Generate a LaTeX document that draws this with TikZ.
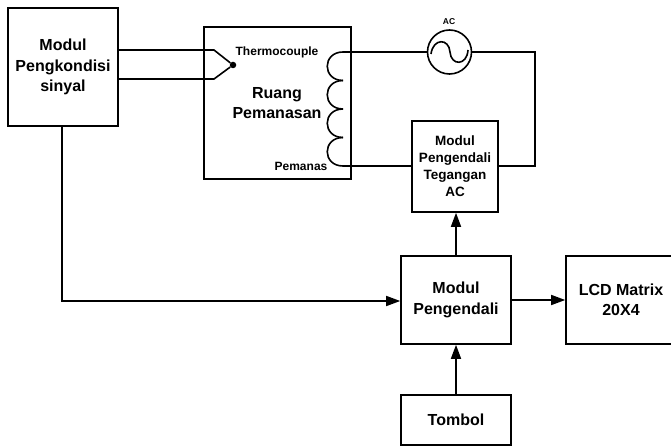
\documentclass[tikz,border=0pt]{standalone}
\usepackage{fontspec}
\setmainfont{Liberation Sans}
\usetikzlibrary{arrows.meta}

\tikzset{
    blok/.style={draw, line width=1.6pt, minimum width=#1, inner sep=0pt, align=center, font=\bfseries\fontsize{16}{20.5}\selectfont},
    kawat/.style={line width=1.6pt},
    panah/.style={line width=1.6pt, -{Triangle[length=14pt,width=10pt]}}
}

\begin{document}
\begin{tikzpicture}[x=1pt,y=-1pt]
\useasboundingbox (0,0) rectangle (671,446);

% Blok utama
\node[blok=110pt, minimum height=118pt] (kondisi) at (63,67) {Modul\\Pengkondisi\\sinyal};
\node[blok=147pt, minimum height=152pt] (ruang) at (277.5,103) {};
\node[blok=86pt, minimum height=91pt, font=\bfseries\fontsize{13.5}{17}\selectfont] (tegangan) at (455,166.5) {Modul\\Pengendali\\Tegangan\\AC};
\node[blok=110pt, minimum height=88pt] (kendali) at (456,300) {Modul\\Pengendali};
\node[blok=110pt, minimum height=88pt] (lcd) at (621,300) {LCD Matrix\\20X4};
\node[blok=110pt, minimum height=50pt] (tombol) at (456,420) {Tombol};

% Label di dalam ruang
\node[font=\bfseries\fontsize{16}{20.5}\selectfont, align=center] (judul) at (277,103) {Ruang\\Pemanasan};
\node[font=\bfseries\fontsize{12}{14}\selectfont] (termo) at (277,52) {Thermocouple};
\node[font=\bfseries\fontsize{12}{14}\selectfont] (pemanas) at (301,166) {Pemanas};

% Sumber AC
\node[draw, circle, line width=1.6pt, minimum size=44pt, inner sep=0pt] (ac) at (449.5,52) {};
\node[font=\bfseries\fontsize{8.5}{10}\selectfont] (aclabel) at (449,22) {AC};
\draw[kawat] (431,54) .. controls (433,38) and (449,38) .. (450,52) .. controls (451,66) and (467,66) .. (468,50);

% Thermocouple
\coordinate (atas) at (118,50);
\coordinate (bawah) at (118,79);
\coordinate (tekuk1) at (214,50);
\coordinate (tekuk2) at (214,79);
\node[circle, fill, inner sep=0pt, minimum size=6.5pt] (ujung) at (233,65) {};
\draw[kawat] (atas) -- (tekuk1) -- (ujung);
\draw[kawat] (bawah) -- (tekuk2) -- (ujung);

% Lilitan pemanas
\coordinate (lilit1) at (343,52);
\coordinate (lilit2) at (343,166);
\foreach \y in {52,80.5,109,137.5}
{
    \draw[kawat] (343,\y) .. controls (322,\y) and (322,\y+28.5) .. (343,\y+28.5);
}

% Rangkaian AC
\draw[kawat] (lilit1) -- (ac);
\draw[kawat] (ac) -| (535,166) -- (tegangan.east |- lilit2);
\draw[kawat] (lilit2) -- (tegangan.west |- lilit2);

% Sinyal
\coordinate (turun) at (62,301);
\draw[panah] (kondisi.south -| turun) -- (turun) -- (kendali.west |- turun);
\draw[panah] (kendali.north) -- (tegangan.south -| kendali.north);
\draw[panah] (kendali.east) -- (lcd.west);
\draw[panah] (tombol.north) -- (kendali.south);

\end{tikzpicture}
\end{document}
